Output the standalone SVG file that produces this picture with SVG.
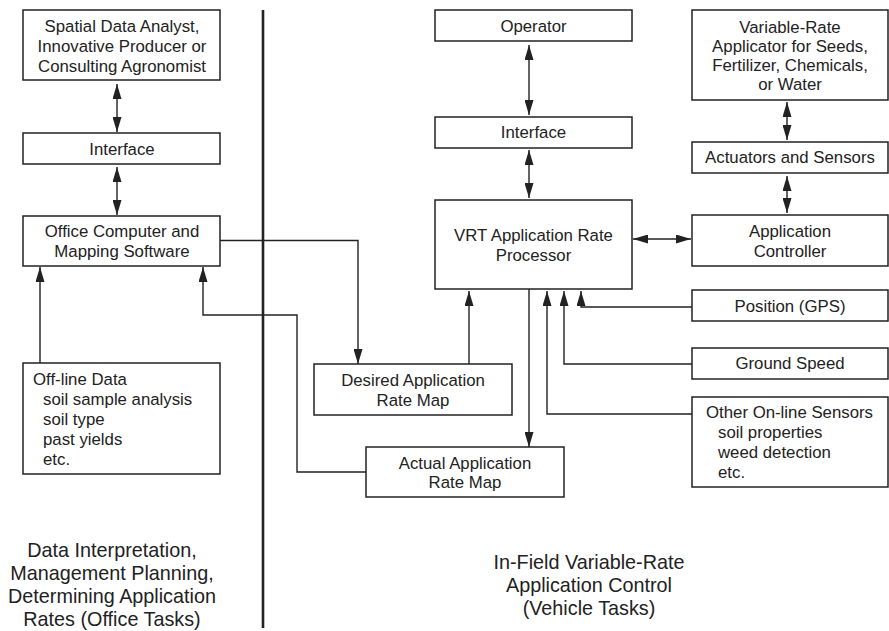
<svg xmlns="http://www.w3.org/2000/svg" width="889" height="631" viewBox="0 0 889 631">
  <style>
    .box { fill: #ffffff; stroke: #222222; stroke-width: 1.5; }
    .t { font-family: "Liberation Sans", Arial, sans-serif; font-size: 16.8px; fill: #222222; }
    .c { text-anchor: middle; }
    .cap { font-family: "Liberation Sans", Arial, sans-serif; font-size: 19.8px; fill: #222222; text-anchor: middle; }
    .link { fill: none; stroke: #222222; stroke-width: 1.4; }
    .one { marker-end: url(#head); }
    .two { marker-start: url(#head); marker-end: url(#head); }
  </style>
  <defs>
    <marker id="head" viewBox="0 0 15 9" refX="15" refY="4.5" markerWidth="15" markerHeight="9" markerUnits="userSpaceOnUse" orient="auto-start-reverse">
      <path d="M0,0 L15,4.5 L0,9 z" fill="#222222"/>
    </marker>
  </defs>

  <!-- divider between office and in-field tasks -->
  <line x1="263" y1="10" x2="263" y2="628" stroke="#222222" stroke-width="2.6"/>

  <!-- connectors -->
  <g id="connectors">
    <line class="link two" x1="117" y1="84" x2="117" y2="132"/>
    <line class="link two" x1="117" y1="167" x2="117" y2="215"/>
    <path class="link one" d="M40,363 V267"/>
    <path class="link one" d="M366,472 H297 V315 H203 V267"/>
    <path class="link one" d="M220,240.5 H358 V364"/>
    <line class="link two" x1="529" y1="45" x2="529" y2="115"/>
    <line class="link two" x1="529" y1="150" x2="529" y2="198"/>
    <path class="link one" d="M469,364 V291"/>
    <path class="link one" d="M529,289 V447"/>
    <line class="link two" x1="633" y1="239" x2="691" y2="239"/>
    <line class="link two" x1="787" y1="102" x2="787" y2="140"/>
    <line class="link two" x1="787" y1="176" x2="787" y2="213"/>
    <path class="link one" d="M692,307 H581 V291"/>
    <path class="link one" d="M692,364 H564 V291"/>
    <path class="link one" d="M692,414 H547 V291"/>
  </g>

  <!-- office side -->
  <g id="analyst">
    <rect class="box" x="23" y="10" width="197" height="70"/>
    <text class="t c" x="122" y="32">Spatial Data Analyst,</text>
    <text class="t c" x="122" y="52">Innovative Producer or</text>
    <text class="t c" x="122" y="72">Consulting Agronomist</text>
  </g>
  <g id="office-interface">
    <rect class="box" x="23" y="133" width="197" height="31"/>
    <text class="t c" x="122" y="155">Interface</text>
  </g>
  <g id="office-computer">
    <rect class="box" x="23" y="216" width="197" height="50"/>
    <text class="t c" x="122" y="237">Office Computer and</text>
    <text class="t c" x="122" y="257">Mapping Software</text>
  </g>
  <g id="offline-data">
    <rect class="box" x="23" y="363" width="197" height="111"/>
    <text class="t" x="33" y="385">Off-line Data</text>
    <text class="t" x="43" y="405">soil sample analysis</text>
    <text class="t" x="43" y="425">soil type</text>
    <text class="t" x="43" y="445">past yields</text>
    <text class="t" x="43" y="465">etc.</text>
  </g>
  <g id="office-caption">
    <text class="cap" x="112" y="557">Data Interpretation,</text>
    <text class="cap" x="112" y="580">Management Planning,</text>
    <text class="cap" x="112" y="603">Determining Application</text>
    <text class="cap" x="112" y="626">Rates (Office Tasks)</text>
  </g>

  <!-- vehicle side -->
  <g id="operator">
    <rect class="box" x="435" y="10" width="197" height="31"/>
    <text class="t c" x="533.5" y="32">Operator</text>
  </g>
  <g id="vehicle-interface">
    <rect class="box" x="435" y="117" width="197" height="31"/>
    <text class="t c" x="533.5" y="138">Interface</text>
  </g>
  <g id="vrt-processor">
    <rect class="box" x="435" y="200" width="197" height="89"/>
    <text class="t c" x="533.5" y="241">VRT Application Rate</text>
    <text class="t c" x="533.5" y="261">Processor</text>
  </g>
  <g id="desired-map">
    <rect class="box" x="314" y="364" width="198" height="51"/>
    <text class="t c" x="413" y="386">Desired Application</text>
    <text class="t c" x="413" y="406">Rate Map</text>
  </g>
  <g id="actual-map">
    <rect class="box" x="366" y="447" width="198" height="50"/>
    <text class="t c" x="465" y="469">Actual Application</text>
    <text class="t c" x="465" y="488">Rate Map</text>
  </g>
  <g id="applicator">
    <rect class="box" x="692" y="10" width="196" height="90"/>
    <text class="t c" x="790" y="33">Variable-Rate</text>
    <text class="t c" x="790" y="52">Applicator for Seeds,</text>
    <text class="t c" x="790" y="71">Fertilizer, Chemicals,</text>
    <text class="t c" x="790" y="90">or Water</text>
  </g>
  <g id="actuators">
    <rect class="box" x="692" y="142" width="196" height="31"/>
    <text class="t c" x="790" y="163">Actuators and Sensors</text>
  </g>
  <g id="controller">
    <rect class="box" x="692" y="215" width="196" height="51"/>
    <text class="t c" x="790" y="237">Application</text>
    <text class="t c" x="790" y="257">Controller</text>
  </g>
  <g id="gps">
    <rect class="box" x="692" y="290" width="196" height="31"/>
    <text class="t c" x="790" y="312">Position (GPS)</text>
  </g>
  <g id="ground-speed">
    <rect class="box" x="692" y="348" width="196" height="31"/>
    <text class="t c" x="790" y="369">Ground Speed</text>
  </g>
  <g id="online-sensors">
    <rect class="box" x="692" y="397" width="196" height="90"/>
    <text class="t" x="706" y="418">Other On-line Sensors</text>
    <text class="t" x="718" y="438">soil properties</text>
    <text class="t" x="718" y="458">weed detection</text>
    <text class="t" x="718" y="478">etc.</text>
  </g>
  <g id="vehicle-caption">
    <text class="cap" x="589" y="569">In-Field Variable-Rate</text>
    <text class="cap" x="589" y="592">Application Control</text>
    <text class="cap" x="589" y="615">(Vehicle Tasks)</text>
  </g>
</svg>
